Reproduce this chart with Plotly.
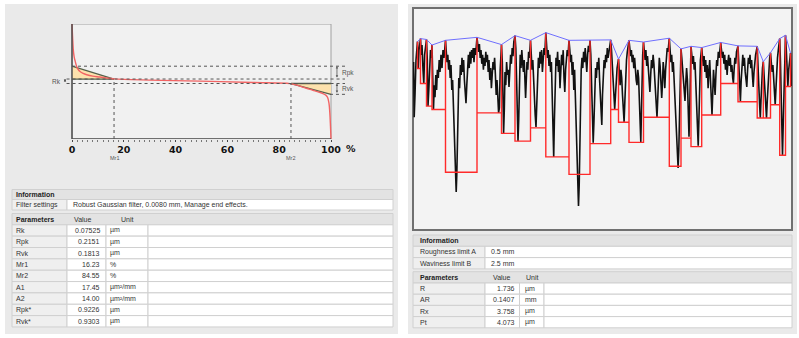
import plotly.graph_objects as go

W, H = 799, 338

# ---------------- Left panel data: material ratio (Abbott-Firestone) curve ----------------
abbott_mr_pct = [0, 0.1, 0.25, 0.5, 0.8, 1.16, 1.8, 2.4, 3.1, 4.3, 5.7, 8, 10.8, 13.5, 16.2, 30,
                 49.4, 70, 84.2, 86, 88, 90.5, 93, 95, 96.9, 98, 98.7, 99.2, 99.5, 99.75, 99.9, 100]
abbott_height_um = [0.9626, 0.86, 0.72, 0.53, 0.42, 0.35, 0.25, 0.2, 0.166, 0.133, 0.111, 0.088, 0.073,
                    0.055, 0.042, 0.022, 0.004, -0.018, -0.037, -0.055, -0.08, -0.115, -0.148, -0.175,
                    -0.203, -0.23, -0.27, -0.36, -0.5, -0.7, -0.85, -0.9655]

x_tick_vals = [0, 20, 40, 60, 80, 100]
x_tick_text = ["0", "20", "40", "60", "80", "100"]

info_left_labels = ["Filter settings"]
info_left_values = ["Robust Gaussian filter, 0.0080 mm, Manage end effects."]

rk_names = ["Rk", "Rpk", "Rvk", "Mr1", "Mr2", "A1", "A2", "Rpk*", "Rvk*"]
rk_values = ["0.07525", "0.2151", "0.1813", "16.23", "84.55", "17.45", "14.00", "0.9226", "0.9303"]
rk_units = ["µm", "µm", "µm", "%", "%", "µm²/mm", "µm²/mm", "µm", "µm"]

# ---------------- Right panel data: roughness profile and motifs ----------------
profile_x_mm = [
    0.001, 0.007, 0.015, 0.025, 0.040, 0.048, 0.055, 0.070, 0.078, 0.085, 0.095, 0.103, 0.111, 0.120,
    0.130, 0.138, 0.145, 0.153, 0.160, 0.170, 0.177, 0.185,
    0.193, 0.200, 0.208, 0.215, 0.223, 0.231, 0.239, 0.248, 0.257, 0.265, 0.275, 0.285, 0.295, 0.305, 0.320,
    0.328, 0.335, 0.343, 0.351, 0.359, 0.367, 0.375, 0.383, 0.391, 0.399, 0.407, 0.415, 0.422, 0.427,
    0.433, 0.439, 0.445, 0.453, 0.461, 0.469, 0.477, 0.485, 0.493, 0.501, 0.509, 0.517, 0.525, 0.533,
    0.541, 0.549, 0.557, 0.565, 0.573, 0.581, 0.589, 0.597, 0.605, 0.613, 0.621, 0.635,
    0.643, 0.651, 0.659, 0.667, 0.675, 0.683, 0.691, 0.699, 0.707, 0.715, 0.723, 0.731, 0.739, 0.747,
    0.755, 0.763, 0.771, 0.779, 0.787, 0.795, 0.803, 0.811, 0.819, 0.827, 0.835, 0.843, 0.851, 0.859,
    0.867, 0.880,
    0.888, 0.895, 0.901, 0.908, 0.915, 0.923, 0.931, 0.939, 0.947, 0.955, 0.963, 0.971, 0.979, 0.987,
    0.995, 1.003, 1.015,
    1.023, 1.031, 1.039, 1.045, 1.052, 1.059, 1.067, 1.075, 1.083, 1.091, 1.099, 1.107, 1.115, 1.121,
    1.128, 1.135, 1.143, 1.151, 1.159, 1.170,
    1.178, 1.185, 1.193, 1.201, 1.209, 1.217, 1.225, 1.233, 1.241, 1.249, 1.257, 1.265, 1.273, 1.281,
    1.289, 1.297, 1.305, 1.313, 1.323,
    1.331, 1.339, 1.347, 1.355, 1.363, 1.371, 1.379, 1.387, 1.395, 1.402, 1.409, 1.417, 1.425, 1.433,
    1.441, 1.449, 1.457, 1.465, 1.473, 1.481, 1.489, 1.497, 1.505, 1.513, 1.521, 1.529, 1.537, 1.545, 1.555,
    1.563, 1.571, 1.579, 1.587, 1.595, 1.603, 1.611, 1.619, 1.627, 1.635, 1.643, 1.650, 1.657, 1.663,
    1.669, 1.677, 1.685, 1.693, 1.701, 1.709, 1.717, 1.725, 1.733, 1.741, 1.749, 1.757, 1.765,
    1.773, 1.781, 1.789, 1.797, 1.805, 1.813, 1.821, 1.829, 1.837, 1.845, 1.853, 1.861, 1.869, 1.877,
    1.883, 1.890, 1.898, 1.906, 1.914, 1.922, 1.930, 1.938, 1.946, 1.954, 1.962, 1.972,
    1.980, 1.988, 1.996, 2.004, 2.012, 2.020, 2.028, 2.036, 2.050,
    2.058, 2.066, 2.074, 2.082, 2.090, 2.098, 2.106, 2.114, 2.122, 2.130, 2.138, 2.146, 2.155,
    2.163, 2.171, 2.179, 2.187, 2.195, 2.203, 2.211, 2.219, 2.227, 2.235, 2.243, 2.251, 2.259, 2.267,
    2.273, 2.279, 2.285, 2.292, 2.300,
    2.308, 2.316, 2.324, 2.332, 2.340, 2.348, 2.356, 2.364, 2.372, 2.380, 2.388, 2.396, 2.404, 2.412,
    2.420, 2.428, 2.435, 2.442, 2.450, 2.458, 2.466, 2.474, 2.482, 2.489, 2.497, 2.505, 2.513, 2.521,
    2.529, 2.537, 2.545, 2.558,
    2.566, 2.574, 2.582, 2.590, 2.598, 2.606, 2.614, 2.622, 2.630, 2.638, 2.646, 2.653, 2.660, 2.667, 2.675,
    2.683, 2.691, 2.699, 2.707, 2.715, 2.723, 2.731, 2.739, 2.747, 2.755, 2.762, 2.768, 2.775,
    2.783, 2.791, 2.799, 2.807, 2.815, 2.823, 2.831, 2.839, 2.847, 2.854, 2.861, 2.869, 2.882,
    2.890, 2.898, 2.906, 2.914, 2.922, 2.930, 2.938, 2.946, 2.954, 2.962, 2.970, 2.978, 2.985, 2.992,
    3.000, 3.008, 3.016, 3.024, 3.032, 3.040, 3.048, 3.056, 3.072,
    3.080, 3.088, 3.096, 3.104, 3.112, 3.120, 3.128, 3.136, 3.144, 3.152, 3.160, 3.168, 3.176, 3.184,
    3.192, 3.199, 3.206, 3.214, 3.222, 3.230, 3.245,
    3.253, 3.261, 3.269, 3.277, 3.285, 3.293, 3.301, 3.309, 3.317, 3.325, 3.333, 3.341, 3.349, 3.357,
    3.365, 3.373, 3.381, 3.389, 3.397, 3.405, 3.413, 3.421, 3.437,
    3.445, 3.453, 3.461, 3.468, 3.475, 3.483, 3.490, 3.498,
    3.506, 3.514, 3.522, 3.530, 3.538, 3.546, 3.554, 3.562, 3.570,
    3.578, 3.586, 3.594, 3.602, 3.610, 3.617, 3.624, 3.632, 3.640, 3.648, 3.662,
    3.669, 3.676, 3.683, 3.690, 3.697, 3.704, 3.711, 3.720,
    3.728, 3.736, 3.744, 3.752, 3.760, 3.770, 3.777, 3.783,
]
profile_h_um = [
    3.37, 2.08, 2.60, 3.42, 3.85, 3.23, 3.65, 3.92, 3.54, 3.77, 3.19, 2.86, 3.54, 3.77,
    3.90, 3.42, 2.34, 2.72, 3.37, 3.65, 3.47, 3.77,
    2.95, 2.27, 2.83, 2.55, 3.07, 2.72, 3.19, 3.00, 3.42, 3.14, 3.54, 3.23, 3.65, 3.47, 3.88,
    3.61, 3.37, 3.54, 3.19, 3.42, 3.00, 3.30, 2.72, 2.95, 2.25, 1.78, 1.08, 0.49, 0.33,
    0.73, 1.55, 2.48, 3.00, 2.76, 3.30, 3.07, 3.47, 3.14, 3.42, 2.95, 2.67, 2.41, 2.83,
    3.19, 3.54, 3.23, 3.61, 3.33, 3.65, 3.47, 3.70, 3.37, 3.70, 3.54, 3.95,
    3.77, 3.61, 3.79, 3.47, 3.65, 3.33, 3.54, 3.19, 3.47, 3.28, 3.61, 3.37, 3.54, 3.14,
    3.42, 2.95, 3.23, 2.76, 3.07, 3.37, 3.19, 3.47, 3.07, 2.60, 2.95, 2.48, 2.18, 2.30,
    3.19, 3.78,
    3.37, 2.48, 1.71, 2.25, 3.14, 2.83, 3.37, 3.07, 3.19, 2.79, 3.23, 3.54, 3.33, 3.70,
    3.51, 3.84, 3.99,
    3.70, 2.95, 2.01, 1.52, 2.01, 3.07, 3.54, 3.23, 3.65, 3.37, 3.14, 3.42, 2.83, 2.53,
    2.95, 3.37, 3.19, 3.61, 3.47, 3.88,
    3.54, 3.19, 3.42, 2.83, 2.48, 2.13, 1.85, 2.37, 3.14, 3.47, 3.23, 3.61, 3.33, 3.65,
    3.14, 3.47, 3.70, 3.54, 4.06,
    3.77, 3.47, 3.65, 3.28, 3.54, 3.14, 3.37, 2.72, 1.90, 1.15, 2.01, 3.07, 3.47, 3.28,
    3.61, 3.14, 3.42, 2.76, 3.23, 3.54, 3.30, 3.65, 3.00, 2.67, 3.19, 3.47, 3.65, 3.51, 3.88,
    3.65, 3.37, 3.54, 3.07, 3.37, 2.72, 3.19, 2.48, 2.01, 1.31, 0.61, 0.00, 0.49, 1.55,
    2.60, 3.19, 3.47, 3.23, 3.61, 3.37, 3.70, 3.47, 3.14, 3.54, 3.75, 3.61, 3.88,
    3.54, 2.95, 2.25, 1.48, 2.01, 2.83, 3.23, 3.00, 3.37, 3.19, 3.47, 2.95, 2.48, 2.13,
    1.90, 2.60, 3.14, 3.42, 3.23, 3.54, 3.37, 3.70, 3.47, 3.65, 3.77, 3.89,
    3.65, 3.37, 2.95, 2.60, 2.27, 2.60, 3.07, 3.23, 3.44,
    3.14, 2.83, 3.19, 3.00, 2.60, 2.25, 1.97, 2.48, 3.07, 3.42, 3.61, 3.70, 3.88,
    3.70, 3.51, 3.65, 3.37, 3.54, 3.23, 3.47, 3.14, 2.95, 2.83, 3.19, 3.00, 2.48, 1.90,
    1.50, 2.13, 2.95, 3.54, 3.84,
    3.61, 3.42, 3.65, 3.28, 3.51, 3.14, 2.95, 2.67, 3.07, 3.42, 3.23, 3.54, 3.33, 3.00,
    2.60, 2.25, 2.08, 2.48, 3.19, 3.47, 3.28, 2.95, 2.53, 2.83, 3.37, 3.14, 2.76, 3.19,
    3.54, 3.70, 3.61, 3.93,
    3.65, 3.37, 3.54, 3.14, 3.37, 2.95, 2.60, 2.25, 1.78, 1.31, 0.89, 1.31, 2.25, 3.19, 3.68,
    3.47, 3.19, 2.83, 2.60, 2.46, 2.90, 3.23, 2.95, 2.25, 1.62, 2.25, 3.19, 3.74,
    3.54, 3.33, 3.51, 3.19, 3.37, 2.90, 2.48, 1.90, 1.41, 2.01, 2.83, 3.42, 3.71,
    3.47, 3.28, 3.51, 3.14, 3.42, 3.00, 3.30, 2.76, 3.14, 3.42, 2.95, 2.48, 2.13, 2.60,
    3.19, 2.90, 2.60, 3.07, 3.42, 3.28, 3.61, 3.47, 3.83,
    3.65, 3.47, 3.61, 3.33, 3.54, 3.19, 3.42, 3.07, 3.37, 3.54, 3.28, 3.47, 3.14, 3.30,
    3.00, 2.88, 3.19, 3.47, 3.33, 3.61, 3.75,
    3.37, 2.83, 2.46, 2.95, 3.37, 3.54, 3.28, 3.47, 3.14, 2.95, 2.79, 3.19, 3.47, 3.33,
    3.54, 3.23, 3.42, 3.07, 2.79, 3.14, 3.42, 3.54, 3.74,
    3.42, 2.83, 2.37, 2.06, 2.48, 3.00, 3.23, 3.38,
    3.07, 2.72, 2.37, 2.06, 2.48, 2.95, 3.30, 3.47, 3.59,
    3.37, 3.14, 3.30, 2.83, 2.53, 2.37, 2.72, 3.19, 3.47, 3.65, 3.92,
    3.42, 2.60, 1.78, 1.19, 1.90, 2.83, 3.65, 4.00,
    3.65, 3.23, 2.81, 3.19, 3.42, 3.58, 3.07, 2.81,
]

motif_peak_x_mm = [0.040, 0.070, 0.130, 0.185, 0.320, 0.635, 0.880, 1.015, 1.170, 1.323, 1.555, 1.765,
                   1.972, 2.050, 2.155, 2.300, 2.558, 2.675, 2.775, 2.882, 3.072, 3.245, 3.437, 3.498,
                   3.570, 3.662, 3.720, 3.770]
motif_peak_h_um = [3.85, 3.92, 3.90, 3.77, 3.88, 3.95, 3.78, 3.99, 3.88, 4.06, 3.88, 3.88, 3.89, 3.44,
                   3.88, 3.84, 3.93, 3.68, 3.74, 3.71, 3.83, 3.75, 3.74, 3.38, 3.59, 3.92, 4.00, 3.58]
motif_depth_um = [3.22, 2.87, 2.34, 2.26, 0.79, 2.18, 1.70, 1.52, 1.83, 1.15, 0.74, 1.46, 2.26, 1.96,
                  1.49, 2.08, 0.93, 1.59, 1.39, 2.13, 2.87, 2.44, 2.06, 2.06, 2.37, 1.19, 2.80]

info_right_labels = ["Roughness limit A", "Waviness limit B"]
info_right_values = ["0.5 mm", "2.5 mm"]
motif_names = ["R", "AR", "Rx", "Pt"]
motif_values = ["1.736", "0.1407", "3.758", "4.073"]
motif_units = ["µm", "mm", "µm", "µm"]

# ---------------- derived Rk construction levels ----------------
Rk, Rpk, Rvk = float(rk_values[0]), float(rk_values[1]), float(rk_values[2])
Mr1, Mr2 = float(rk_values[3]), float(rk_values[4])
Rpk_star, Rvk_star = float(rk_values[7]), float(rk_values[8])
core_top = 0.04
core_bot = core_top - Rk
rpk_top = core_top + Rpk
rvk_bot = core_bot - Rvk
y_lo, y_hi = core_bot - Rvk_star, core_top + Rpk_star


def X(p):
    return p / W


def Y(p):
    return 1 - p / H


FONT = "Liberation Sans, Arial, sans-serif"
fig = go.Figure()

# ---------- left chart traces ----------
fig.add_trace(go.Scatter(x=[0, Mr1, 0, 0], y=[rpk_top, core_top, core_top, rpk_top], mode="lines",
                         fill="toself", fillcolor="#fde2ad", line=dict(width=0), hoverinfo="skip",
                         xaxis="x", yaxis="y"))
fig.add_trace(go.Scatter(x=[Mr2, 100, 100, Mr2], y=[core_bot, core_bot, rvk_bot, core_bot], mode="lines",
                         fill="toself", fillcolor="#fde2ad", line=dict(width=0), hoverinfo="skip",
                         xaxis="x", yaxis="y"))
fig.add_trace(go.Scatter(x=[0, Mr1, None, 0, Mr1], y=[rpk_top, core_top, None, core_top, core_top],
                         mode="lines", line=dict(color="#55604a", width=1.3), hoverinfo="skip",
                         xaxis="x", yaxis="y"))
fig.add_trace(go.Scatter(x=[Mr2, 100, None, Mr2, 100], y=[core_bot, rvk_bot, None, core_bot, core_bot],
                         mode="lines", line=dict(color="#55604a", width=1.3), hoverinfo="skip",
                         xaxis="x", yaxis="y"))
fig.add_trace(go.Scatter(x=abbott_mr_pct, y=abbott_height_um, mode="lines", line_shape="spline",
                         line=dict(color="#f26464", width=1.4), hoverinfo="skip", xaxis="x", yaxis="y"))

# ---------- right chart traces ----------
fig.add_trace(go.Scatter(x=profile_x_mm, y=profile_h_um, mode="lines",
                         line=dict(color="#111111", width=1.6), hoverinfo="skip", xaxis="x2", yaxis="y2"))
red_x, red_y = [], []
for i, d in enumerate(motif_depth_um):
    red_x += [motif_peak_x_mm[i], motif_peak_x_mm[i], motif_peak_x_mm[i + 1]]
    red_y += [motif_peak_h_um[i], d, d]
red_x.append(motif_peak_x_mm[-1])
red_y.append(motif_peak_h_um[-1])
fig.add_trace(go.Scatter(x=red_x, y=red_y, mode="lines", line=dict(color="#ff2a2a", width=1.4),
                         hoverinfo="skip", xaxis="x2", yaxis="y2"))
fig.add_trace(go.Scatter(x=motif_peak_x_mm, y=motif_peak_h_um, mode="lines",
                         line=dict(color="#6f6fff", width=1), hoverinfo="skip", xaxis="x2", yaxis="y2"))

shapes = []


def prect(x0, y0, x1, y1, fill, line="#d3d3d3", lw=1):
    shapes.append(dict(type="rect", xref="paper", yref="paper", x0=X(x0), x1=X(x1), y0=Y(y1), y1=Y(y0),
                       fillcolor=fill, line=dict(color=line, width=lw), layer="below"))


# panels
prect(5, 4, 398, 334, "#eaeaea", line="#eaeaea", lw=0)
prect(408, 4, 797, 334, "#eaeaea", line="#eaeaea", lw=0)
# right plot box
prect(413, 8, 792, 230, "#f3f3f3", line="#707070", lw=2)
# left plot box
shapes.append(dict(type="rect", xref="x", yref="y", x0=0, x1=100, y0=y_lo, y1=y_hi, fillcolor="#f1f1f1",
                   line=dict(color="#a0a0a0", width=1), layer="below"))
shapes.append(dict(type="line", xref="x", yref="y", x0=0, x1=0, y0=y_lo, y1=y_hi,
                   line=dict(color="#505050", width=1.5)))
shapes.append(dict(type="line", xref="x", yref="y", x0=0, x1=100, y0=y_lo, y1=y_lo,
                   line=dict(color="#505050", width=1.5)))
# dotted construction lines
dot = dict(color="#555555", width=1, dash="dot")
for (x0, x1, yv) in [(0, 105.4, rpk_top), (-2.1, 105.4, core_top), (-2.1, 105.4, core_bot),
                     (99.6, 105.4, rvk_bot)]:
    shapes.append(dict(type="line", xref="x", yref="y", x0=x0, x1=x1, y0=yv, y1=yv, line=dot))
for (xv, yv) in [(Mr1, core_top), (Mr2, core_bot)]:
    shapes.append(dict(type="line", xref="x", yref="y", x0=xv, x1=xv, y0=y_lo, y1=yv, line=dot))

annotations = []


def txt(x, y, s, size=7, bold=False, anchor="left", color="#333333", family=FONT):
    annotations.append(dict(x=X(x), y=Y(y), xref="paper", yref="paper", text=s, showarrow=False,
                            xanchor=anchor, yanchor="middle", borderpad=0,
                            font=dict(family=family, size=size, color=color,
                                      weight="bold" if bold else "normal")))


# ---------- left tables ----------
hdr_fill, lab_fill, val_fill, bcol = "#e3e3e3", "#efefef", "#ffffff", "#d0d0d0"
prect(12, 189.5, 393, 199.5, hdr_fill, bcol)
txt(15, 194.5, "Information", bold=True, color="#222222")
for i, (lab, val) in enumerate(zip(info_left_labels, info_left_values)):
    t = 199.5 + i * 10.5
    prect(12, t, 67, t + 10.5, lab_fill, bcol)
    prect(67, t, 393, t + 10.5, val_fill, bcol)
    txt(15, t + 5.25, lab)
    txt(72, t + 5.25, val)

prect(12, 213.5, 393, 224.8, hdr_fill, bcol)
txt(15, 219.2, "Parameters", bold=True, color="#222222")
txt(82, 219.2, "Value", anchor="center")
txt(120, 219.2, "Unit")
rh = 11.35
for i, (n, v, u) in enumerate(zip(rk_names, rk_values, rk_units)):
    t = 224.8 + i * rh
    prect(12, t, 67, t + rh, lab_fill, bcol)
    prect(67, t, 106, t + rh, val_fill, bcol)
    prect(106, t, 148, t + rh, val_fill, bcol)
    prect(148, t, 393, t + rh, val_fill, bcol)
    txt(15, t + rh / 2, n)
    txt(101, t + rh / 2, v, anchor="right")
    txt(109, t + rh / 2, u)

# ---------- right tables ----------
prect(413, 235, 792, 246.3, hdr_fill, bcol)
txt(419, 240.7, "Information", bold=True, color="#222222")
for i, (lab, val) in enumerate(zip(info_right_labels, info_right_values)):
    t = 246.3 + i * 11.3
    prect(413, t, 485, t + 11.3, lab_fill, bcol)
    prect(485, t, 792, t + 11.3, val_fill, bcol)
    txt(419, t + 5.65, lab)
    txt(490, t + 5.65, val)

prect(413, 271.7, 792, 283, hdr_fill, bcol)
txt(419, 277.3, "Parameters", bold=True, color="#222222")
txt(501.5, 277.3, "Value", anchor="center")
txt(525, 277.3, "Unit")
rh2 = 11.2
for i, (n, v, u) in enumerate(zip(motif_names, motif_values, motif_units)):
    t = 283 + i * rh2
    prect(413, t, 485, t + rh2, lab_fill, bcol)
    prect(485, t, 519.5, t + rh2, val_fill, bcol)
    prect(519.5, t, 544, t + rh2, val_fill, bcol)
    prect(544, t, 792, t + rh2, val_fill, bcol)
    txt(419, t + rh2 / 2, n)
    txt(515.5, t + rh2 / 2, v, anchor="right")
    txt(524, t + rh2 / 2, u)

# ---------- left chart labels ----------
small = dict(family=FONT, size=6.5, color="#555555")
txt(56, 81.6, "Rk", size=6.5, anchor="center", color="#555555")
annotations.append(dict(x=103.4, y=(rpk_top + core_top) / 2, xref="x", yref="y", text="Rpk",
                        showarrow=False, font=small, xanchor="left", yanchor="middle"))
annotations.append(dict(x=103.4, y=(core_bot + rvk_bot) / 2, xref="x", yref="y", text="Rvk",
                        showarrow=False, font=small, xanchor="left", yanchor="middle"))
for (xa, y0, y1) in [(-2.7, core_bot, core_top), (102.3, core_top, rpk_top), (102.3, rvk_bot, core_bot)]:
    annotations.append(dict(x=xa, y=y1, ax=xa, ay=y0, xref="x", yref="y", axref="x", ayref="y", text="",
                            showarrow=True, arrowhead=2, arrowside="end+start", arrowsize=0.6,
                            arrowwidth=0.8, arrowcolor="#555555", standoff=0, startstandoff=0))
for (mv, lab) in [(Mr1, "Mr1"), (Mr2, "Mr2")]:
    annotations.append(dict(x=mv, y=Y(157.5), xref="x", yref="paper", text=lab, showarrow=False,
                            font=dict(family=FONT, size=5.5, color="#555555"),
                            xanchor="center", yanchor="middle"))
annotations.append(dict(x=X(351), y=Y(148.5), xref="paper", yref="paper", text="%", showarrow=False,
                        font=dict(family="DejaVu Sans", size=9.5, color="#111111", weight="bold"),
                        xanchor="center", yanchor="middle"))

L0, L100 = 72, 331
s = (L100 - L0) / 100
fig.update_layout(
    width=W, height=H, margin=dict(l=0, r=0, t=0, b=0),
    paper_bgcolor="#ffffff", plot_bgcolor="rgba(0,0,0,0)", showlegend=False,
    xaxis=dict(domain=[X(60), X(360)], range=[(60 - L0) / s, (360 - L0) / s], anchor="y",
               showgrid=False, zeroline=False, showline=False,
               tickmode="array", tickvals=x_tick_vals, ticktext=x_tick_text,
               ticks="outside", ticklen=2, tickcolor="#444444", tickwidth=1,
               tickfont=dict(family="DejaVu Sans", size=9.5, color="#111111", weight="bold"),
               minor=dict(tickmode="array", tickvals=[v for v in range(2, 100, 2)], ticks="outside",
                          ticklen=2, tickcolor="#777777", showgrid=False)),
    yaxis=dict(domain=[Y(139), Y(24)], range=[y_lo, y_hi], anchor="x", visible=False),
    xaxis2=dict(domain=[X(413), X(792)], range=[-0.005, 3.785], anchor="y2", visible=False),
    yaxis2=dict(domain=[Y(230), Y(8)], range=[-0.562, 4.637], anchor="x2", visible=False),
    shapes=shapes, annotations=annotations,
)

fig.write_html("out.html")
